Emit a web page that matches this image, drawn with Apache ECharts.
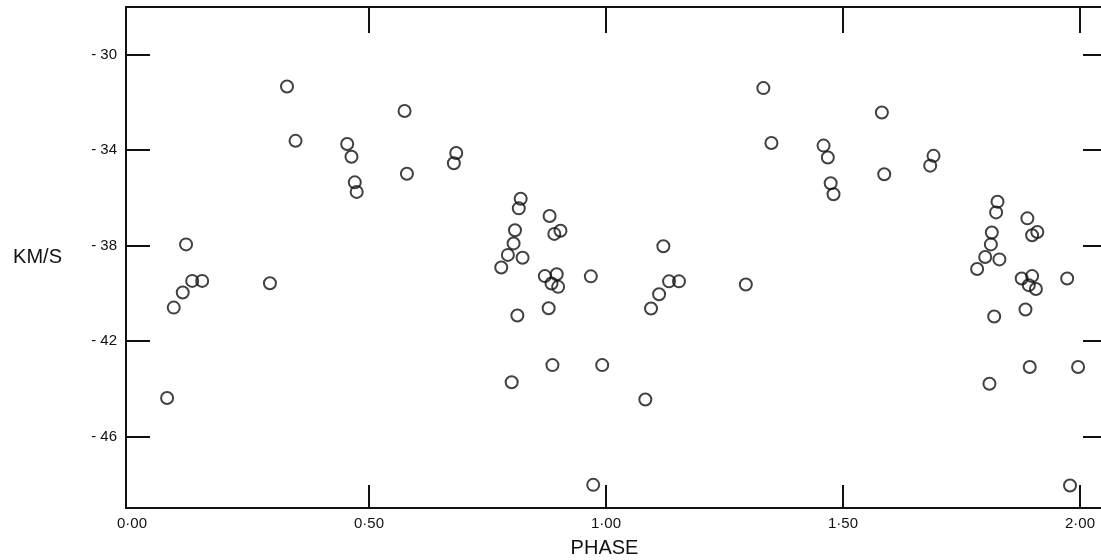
<!DOCTYPE html>
<html>
<head>
<meta charset="utf-8">
<title>PHASE / KM/S</title>
<script src="https://cdn.jsdelivr.net/npm/echarts@6/dist/echarts.min.js"></script>
<style>
  html, body { margin: 0; padding: 0; background: #ffffff; }
  #main { width: 1101px; height: 560px; }
</style>
</head>
<body>
<div id="main"></div>
<script>
// phase / velocity pairs (two cycles shown)
var phase = [
  0.074, 0.088, 0.107, 0.114, 0.127, 0.148, 0.291, 0.327, 0.345, 0.454,
  0.463, 0.470, 0.474, 0.575, 0.580, 0.679, 0.684, 0.779, 0.793, 0.801,
  0.805, 0.808, 0.813, 0.816, 0.820, 0.824, 0.871, 0.879, 0.881, 0.885,
  0.887, 0.891, 0.896, 0.899, 0.904, 0.968, 0.973, 0.992,
  1.083, 1.095, 1.112, 1.121, 1.133, 1.154, 1.295, 1.332, 1.349, 1.459,
  1.468, 1.474, 1.480, 1.582, 1.587, 1.684, 1.691, 1.783, 1.800, 1.809,
  1.812, 1.814, 1.819, 1.823, 1.826, 1.830, 1.877, 1.885, 1.889, 1.892,
  1.894, 1.899, 1.899, 1.907, 1.910, 1.973, 1.979, 1.996
];
var velocity = [
  -44.39, -40.60, -39.97, -37.95, -39.48, -39.48, -39.58, -31.33, -33.61, -33.74,
  -34.28, -35.35, -35.75, -32.36, -34.99, -34.55, -34.12, -38.92, -38.39, -43.73,
  -37.91, -37.36, -40.93, -36.44, -36.04, -38.51, -39.28, -40.63, -36.76, -39.59,
  -43.01, -37.51, -39.20, -39.73, -37.38, -39.29, -48.03, -43.01,
  -44.45, -40.64, -40.04, -38.03, -39.50, -39.50, -39.63, -31.40, -33.70, -33.81,
  -34.31, -35.39, -35.85, -32.42, -35.01, -34.65, -34.24, -38.98, -38.48, -43.79,
  -37.95, -37.45, -40.97, -36.61, -36.16, -38.58, -39.38, -40.68, -36.86, -39.66,
  -43.09, -37.57, -39.28, -39.82, -37.43, -39.38, -48.06, -43.09
];

var xTickValues = [0.5, 1.0, 1.5, 2.0];
var xLabelValues = [0, 0.5, 1.0, 1.5, 2.0];
var xTickLabels = ['0·00', '0·50', '1·00', '1·50', '2·00'];
var yTickValues = [-46, -42, -38, -34, -30];
var yTickLabels = ['- 46', '- 42', '- 38', '- 34', '- 30'];

function drawChart() {
  let myChart = echarts.init(document.getElementById('main'));
  var option;

  let points = [];
  for (let i = 0; i < phase.length; i++) {
    points.push([phase[i], velocity[i]]);
  }

  let ink = '#111111';
  let font = 'Liberation Sans';
  let lineStyle = { color: ink, width: 2 };

  option = {
    backgroundColor: '#ffffff',
    animation: false,
    grid: {
      left: 126,
      top: 7,
      right: -6,
      bottom: 52,
      outerBoundsMode: 'none'
    },
    xAxis: [{
      type: 'value',
      position: 'bottom',
      min: -0.0127,
      max: 2.057,
      name: 'PHASE',
      nameLocation: 'middle',
      nameGap: 30,
      nameTextStyle: {
        color: ink,
        fontFamily: font,
        fontSize: 20,
        padding: [0, 24, 0, 0]
      },
      splitLine: { show: false },
      axisLine: { show: true, onZero: false, lineStyle: lineStyle },
      axisTick: {
        show: true,
        inside: true,
        length: 23,
        customValues: xTickValues,
        lineStyle: lineStyle
      },
      axisLabel: {
        color: ink,
        fontFamily: font,
        fontSize: 15,
        margin: 8,
        customValues: xLabelValues,
        formatter: function (v) {
          return xTickLabels[xLabelValues.indexOf(v)];
        }
      }
    }, {
      type: 'value',
      position: 'top',
      min: -0.0127,
      max: 2.057,
      splitLine: { show: false },
      axisLine: { show: true, onZero: false, lineStyle: lineStyle },
      axisTick: {
        show: true,
        inside: true,
        length: 26,
        customValues: xTickValues,
        lineStyle: lineStyle
      },
      axisLabel: { show: false }
    }],
    yAxis: [{
      type: 'value',
      position: 'left',
      min: -49,
      max: -28,
      name: 'KM/S',
      nameLocation: 'middle',
      nameRotate: 0,
      nameGap: 64,
      nameTextStyle: { color: ink, fontFamily: font, fontSize: 20 },
      splitLine: { show: false },
      axisLine: { show: true, onZero: false, lineStyle: lineStyle },
      axisTick: {
        show: true,
        inside: true,
        length: 24,
        customValues: yTickValues,
        lineStyle: lineStyle
      },
      axisLabel: {
        color: ink,
        fontFamily: font,
        fontSize: 15,
        margin: 9,
        customValues: yTickValues,
        formatter: function (v) {
          return yTickLabels[yTickValues.indexOf(v)];
        }
      }
    }, {
      type: 'value',
      position: 'right',
      min: -49,
      max: -28,
      splitLine: { show: false },
      axisLine: { show: true, onZero: false, lineStyle: lineStyle },
      axisTick: {
        show: true,
        inside: true,
        length: 24,
        customValues: yTickValues,
        lineStyle: lineStyle
      },
      axisLabel: { show: false }
    }],
    series: [{
      type: 'scatter',
      xAxisIndex: 0,
      yAxisIndex: 0,
      data: points,
      symbol: 'circle',
      symbolSize: 12,
      itemStyle: {
        color: 'rgba(255,255,255,0)',
        borderColor: ink,
        borderWidth: 2
      }
    }]
  };

  myChart.setOption(option);
  window.addEventListener('resize', function () {
    myChart.resize();
  });
}

drawChart();
</script>
</body>
</html>
